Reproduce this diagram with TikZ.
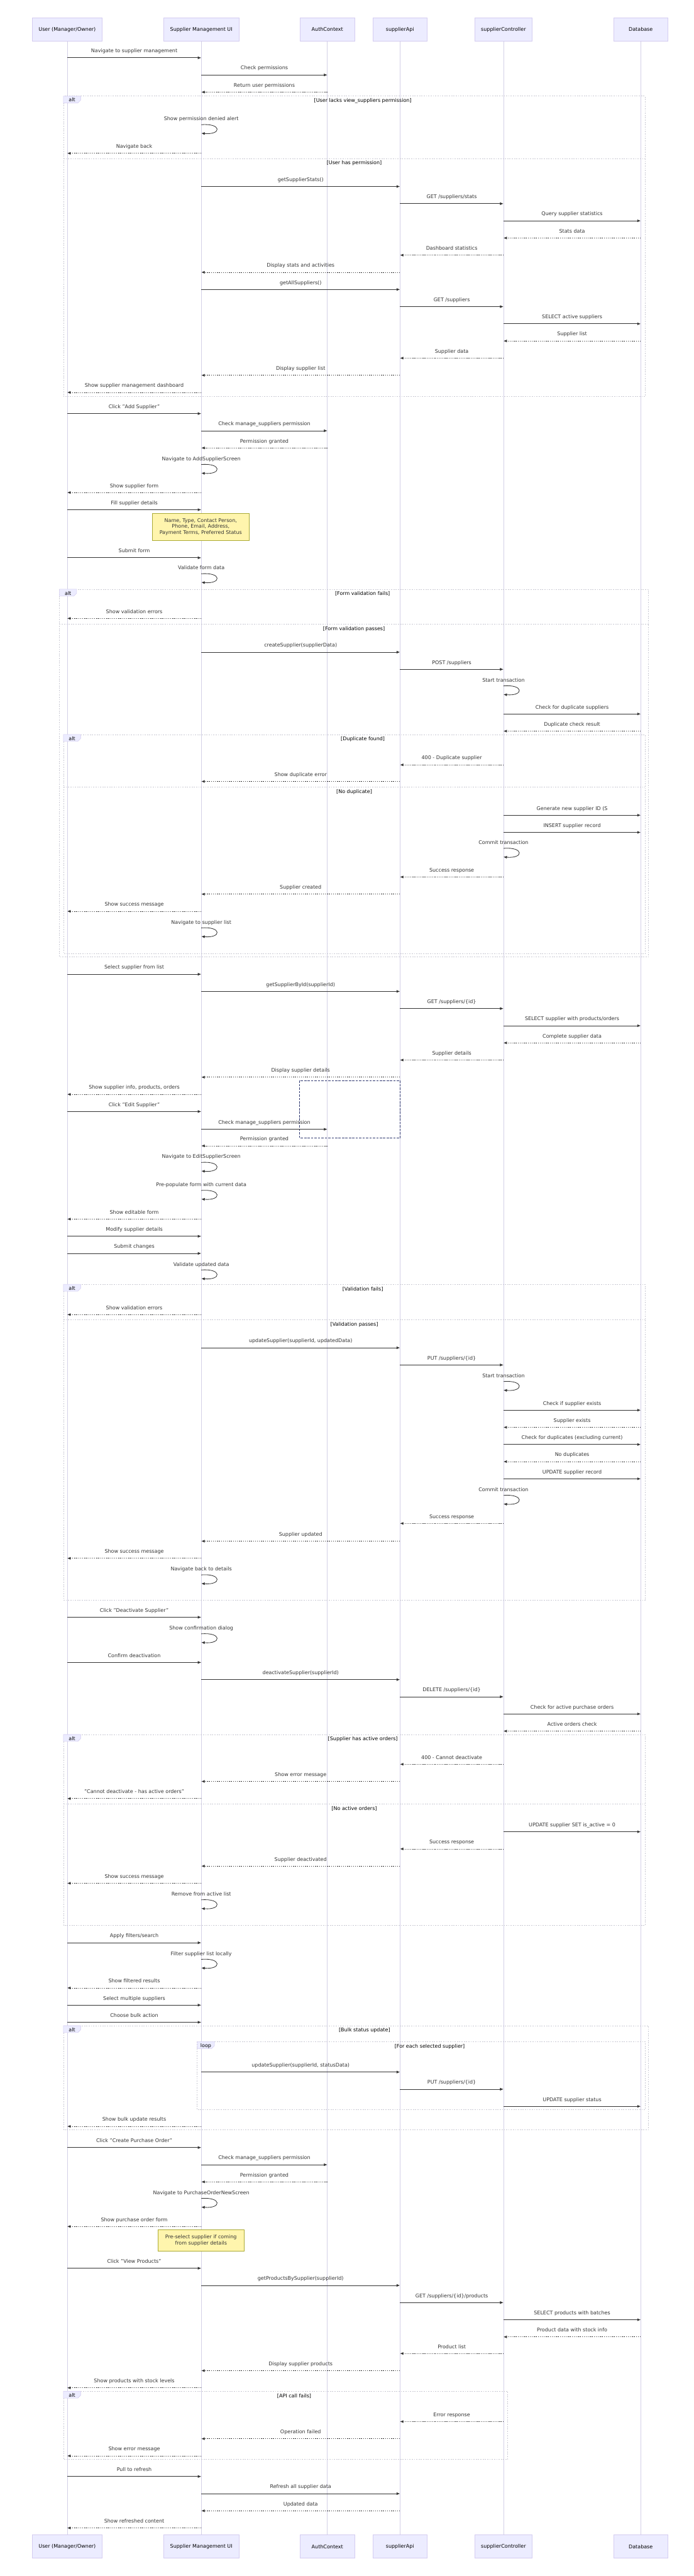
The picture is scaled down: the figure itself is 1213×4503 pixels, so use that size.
\documentclass[tikz,border=0pt]{standalone}
\usepackage{fontspec}
\setmainfont{DejaVu Sans}
\usepackage{xcolor}
\usepackage{tikz}
\usetikzlibrary{arrows.meta}
\definecolor{actorFill}{HTML}{ECECFF}
\definecolor{actorEdge}{HTML}{D4CCF0}
\definecolor{lifeGray}{HTML}{D3D0E6}
\definecolor{frameGray}{HTML}{C9C9D3}
\definecolor{msgDark}{HTML}{333333}
\definecolor{noteFill}{HTML}{FFF5AD}
\definecolor{noteEdge}{HTML}{AAAA33}
\definecolor{boxNavy}{HTML}{2E3770}
\tikzset{>={Latex[length=6pt,width=5pt]}}
\tikzset{seq-font/.style={font=\fontsize{8.8}{10.5}\selectfont}}
\tikzset{actor-box/.style={draw=actorEdge, fill=actorFill, line width=0.8pt, minimum height=41pt, inner sep=0, seq-font, text=black}}
\tikzset{lifeline/.style={draw=lifeGray, line width=0.8pt}}
\tikzset{msg-line/.style={->, draw=msgDark, line width=0.9pt}}
\tikzset{reply-line/.style={msg-line, dash pattern=on 1.5pt off 2pt}}
\tikzset{self-label/.style={seq-font, text=msgDark, anchor=base, inner sep=0}}
\tikzset{msg-label/.style={self-label, yshift=9pt}}
\tikzset{frame-line/.style={draw=frameGray, line width=0.9pt, dash pattern=on 2pt off 2pt}}
\tikzset{frame-tab/.style={draw=actorEdge, fill=actorFill, line width=0.6pt}}
\tikzset{frame-label/.style={seq-font, text=black, anchor=base, inner sep=0}}
\tikzset{note-box/.style={draw=noteEdge, fill=noteFill, line width=0.8pt, seq-font, text=msgDark, align=center, inner sep=0}}
\newcounter{msgno}
\newcommand{\callmsg}[4]{%
    \stepcounter{msgno}%
    \draw[msg-line] (#1 |- 0,#3) -- node[msg-label] (msg\arabic{msgno}) {#4} (#2 |- 0,#3);
}
\newcommand{\replymsg}[4]{%
    \stepcounter{msgno}%
    \draw[reply-line] (#1 |- 0,#3) -- node[msg-label] (msg\arabic{msgno}) {#4} (#2 |- 0,#3);
}
\newcommand{\selfmsg}[3]{%
    \stepcounter{msgno}%
    \node[self-label] (msg\arabic{msgno}) at (#1 |- 0,#2+3) {#3};
    \draw[msg-line] (#1 |- 0,#2+10) .. controls +(36,-3) and +(36,3) .. (#1 |- 0,#2+25);
}
\newcommand{\altframe}[7]{%
    \draw[frame-line] (#3,#5) rectangle (#4,#6);
    \draw[frame-tab] (#3,#5) -- (#3+30,#5) -- (#3+30,#5+7) -- (#3+25,#5+12) -- (#3,#5+12) -- cycle;
    \node[frame-label] (#1tab) at (#3+15,#5+10) {#2};
    \node[frame-label] (#1) at ({(#3+#4)/2+15},#5+11) {#7};
}
\newcommand{\altelse}[5]{%
    \draw[frame-line] (#2,#4) -- (#3,#4);
    \node[frame-label] (#1) at ({(#2+#3)/2},#4+11) {#5};
}

\begin{document}
\begin{tikzpicture}[x=1pt, y=-1pt]
    \fill[white] (0,0) rectangle (1213,4503);
    \useasboundingbox (0,0) rectangle (1213,4503);

    \node[actor-box, minimum width=123pt] (user) at (117.5,51.5) {User (Manager/Owner)};
    \node[actor-box, minimum width=132pt] (ui) at (352,51.5) {Supplier Management UI};
    \node[actor-box, minimum width=95pt] (auth) at (572.5,51.5) {AuthContext};
    \node[actor-box, minimum width=95pt] (api) at (699.5,51.5) {supplierApi};
    \node[actor-box, minimum width=101pt] (ctrl) at (880.5,51.5) {supplierController};
    \node[actor-box, minimum width=95pt] (db) at (1120.5,51.5) {Database};

    \node[actor-box, minimum width=123pt] (user-bot) at (117.5,4451.5) {User (Manager/Owner)};
    \node[actor-box, minimum width=132pt] (ui-bot) at (352,4451.5) {Supplier Management UI};
    \node[actor-box, minimum width=95pt] (auth-bot) at (572.5,4451.5) {AuthContext};
    \node[actor-box, minimum width=95pt] (api-bot) at (699.5,4451.5) {supplierApi};
    \node[actor-box, minimum width=101pt] (ctrl-bot) at (880.5,4451.5) {supplierController};
    \node[actor-box, minimum width=95pt] (db-bot) at (1120.5,4451.5) {Database};

    \foreach \a in {user,ui,auth,api,ctrl,db}
        \draw[lifeline] (\a.south) -- (\a-bot.north);

    % load dashboard
    \callmsg{user}{ui}{101}{Navigate to supplier management}
    \callmsg{ui}{auth}{131}{Check permissions}
    \replymsg{auth}{ui}{161}{Return user permissions}
    \altframe{perm}{alt}{111}{1128}{168}{693}{[User lacks view\_suppliers permission]}
    \selfmsg{ui}{208}{Show permission denied alert}
    \replymsg{ui}{user}{268}{Navigate back}
    \altelse{permok}{111}{1128}{277}{[User has permission]}
    \callmsg{ui}{api}{326}{getSupplierStats()}
    \callmsg{api}{ctrl}{356}{GET /suppliers/stats}
    \callmsg{ctrl}{db}{386}{Query supplier statistics}
    \replymsg{db}{ctrl}{416}{Stats data}
    \replymsg{ctrl}{api}{446}{Dashboard statistics}
    \replymsg{api}{ui}{476}{Display stats and activities}
    \callmsg{ui}{api}{506}{getAllSuppliers()}
    \callmsg{api}{ctrl}{536}{GET /suppliers}
    \callmsg{ctrl}{db}{566}{SELECT active suppliers}
    \replymsg{db}{ctrl}{596}{Supplier list}
    \replymsg{ctrl}{api}{626}{Supplier data}
    \replymsg{api}{ui}{656}{Display supplier list}
    \replymsg{ui}{user}{686}{Show supplier management dashboard}

    % add supplier
    \callmsg{user}{ui}{723}{Click "Add Supplier"}
    \callmsg{ui}{auth}{753}{Check manage\_suppliers permission}
    \replymsg{auth}{ui}{783}{Permission granted}
    \selfmsg{ui}{802}{Navigate to AddSupplierScreen}
    \replymsg{ui}{user}{861}{Show supplier form}
    \callmsg{user}{ui}{891}{Fill supplier details}
    \node[note-box, minimum width=170pt, minimum height=48pt] (note1) at (351,921) {Name, Type, Contact Person,\\Phone, Email, Address,\\Payment Terms, Preferred Status};
    \callmsg{user}{ui}{975}{Submit form}
    \selfmsg{ui}{993}{Validate form data}
    \altframe{form}{alt}{104}{1134}{1030}{1673}{[Form validation fails]}
    \replymsg{ui}{user}{1081}{Show validation errors}
    \altelse{formok}{104}{1134}{1091}{[Form validation passes]}
    \callmsg{ui}{api}{1140}{createSupplier(supplierData)}
    \callmsg{api}{ctrl}{1170}{POST /suppliers}
    \selfmsg{ctrl}{1189}{Start transaction}
    \callmsg{ctrl}{db}{1248}{Check for duplicate suppliers}
    \replymsg{db}{ctrl}{1278}{Duplicate check result}
    \altframe{dup}{alt}{111}{1128}{1284}{1667}{[Duplicate found]}
    \replymsg{ctrl}{api}{1337}{400 - Duplicate supplier}
    \replymsg{api}{ui}{1366}{Show duplicate error}
    \altelse{nodup}{111}{1128}{1376}{[No duplicate]}
    \callmsg{ctrl}{db}{1425}{Generate new supplier ID (S}
    \callmsg{ctrl}{db}{1455}{INSERT supplier record}
    \selfmsg{ctrl}{1473}{Commit transaction}
    \replymsg{ctrl}{api}{1533}{Success response}
    \replymsg{api}{ui}{1563}{Supplier created}
    \replymsg{ui}{user}{1593}{Show success message}
    \selfmsg{ui}{1612}{Navigate to supplier list}

    % supplier details and edit
    \callmsg{user}{ui}{1703}{Select supplier from list}
    \callmsg{ui}{api}{1733}{getSupplierById(supplierId)}
    \callmsg{api}{ctrl}{1763}{GET /suppliers/\{id\}}
    \callmsg{ctrl}{db}{1793}{SELECT supplier with products/orders}
    \replymsg{db}{ctrl}{1823}{Complete supplier data}
    \replymsg{ctrl}{api}{1853}{Supplier details}
    \replymsg{api}{ui}{1883}{Display supplier details}
    \draw[draw=boxNavy, line width=0.8pt, dash pattern=on 4pt off 2pt] (524,1889) rectangle (700,1989);
    \replymsg{ui}{user}{1913}{Show supplier info, products, orders}
    \callmsg{user}{ui}{1943}{Click "Edit Supplier"}
    \callmsg{ui}{auth}{1974}{Check manage\_suppliers permission}
    \replymsg{auth}{ui}{2003}{Permission granted}
    \selfmsg{ui}{2022}{Navigate to EditSupplierScreen}
    \selfmsg{ui}{2071}{Pre-populate form with current data}
    \replymsg{ui}{user}{2131}{Show editable form}
    \callmsg{user}{ui}{2161}{Modify supplier details}
    \callmsg{user}{ui}{2191}{Submit changes}
    \selfmsg{ui}{2210}{Validate updated data}
    \altframe{valid}{alt}{111}{1128}{2245}{2797}{[Validation fails]}
    \replymsg{ui}{user}{2298}{Show validation errors}
    \altelse{validok}{111}{1128}{2307}{[Validation passes]}
    \callmsg{ui}{api}{2356}{updateSupplier(supplierId, updatedData)}
    \callmsg{api}{ctrl}{2386}{PUT /suppliers/\{id\}}
    \selfmsg{ctrl}{2405}{Start transaction}
    \callmsg{ctrl}{db}{2465}{Check if supplier exists}
    \replymsg{db}{ctrl}{2495}{Supplier exists}
    \callmsg{ctrl}{db}{2525}{Check for duplicates (excluding current)}
    \replymsg{db}{ctrl}{2555}{No duplicates}
    \callmsg{ctrl}{db}{2585}{UPDATE supplier record}
    \selfmsg{ctrl}{2604}{Commit transaction}
    \replymsg{ctrl}{api}{2663}{Success response}
    \replymsg{api}{ui}{2694}{Supplier updated}
    \replymsg{ui}{user}{2724}{Show success message}
    \selfmsg{ui}{2743}{Navigate back to details}

    % deactivate
    \callmsg{user}{ui}{2827}{Click "Deactivate Supplier"}
    \selfmsg{ui}{2846}{Show confirmation dialog}
    \callmsg{user}{ui}{2906}{Confirm deactivation}
    \callmsg{ui}{api}{2936}{deactivateSupplier(supplierId)}
    \callmsg{api}{ctrl}{2966}{DELETE /suppliers/\{id\}}
    \callmsg{ctrl}{db}{2996}{Check for active purchase orders}
    \replymsg{db}{ctrl}{3026}{Active orders check}
    \altframe{orders}{alt}{111}{1128}{3032}{3366}{[Supplier has active orders]}
    \replymsg{ctrl}{api}{3084}{400 - Cannot deactivate}
    \replymsg{api}{ui}{3114}{Show error message}
    \replymsg{ui}{user}{3144}{"Cannot deactivate - has active orders"}
    \altelse{noorders}{111}{1128}{3153}{[No active orders]}
    \callmsg{ctrl}{db}{3202}{UPDATE supplier SET is\_active = 0}
    \replymsg{ctrl}{api}{3232}{Success response}
    \replymsg{api}{ui}{3262}{Supplier deactivated}
    \replymsg{ui}{user}{3292}{Show success message}
    \selfmsg{ui}{3311}{Remove from active list}

    % filters and bulk actions
    \callmsg{user}{ui}{3396}{Apply filters/search}
    \selfmsg{ui}{3415}{Filter supplier list locally}
    \replymsg{ui}{user}{3475}{Show filtered results}
    \callmsg{user}{ui}{3505}{Select multiple suppliers}
    \callmsg{user}{ui}{3535}{Choose bulk action}
    \altframe{bulk}{alt}{111}{1134}{3541}{3723}{[Bulk status update]}
    \altframe{each}{loop}{345}{1128}{3569}{3688}{[For each selected supplier]}
    \callmsg{ui}{api}{3622}{updateSupplier(supplierId, statusData)}
    \callmsg{api}{ctrl}{3652}{PUT /suppliers/\{id\}}
    \callmsg{ctrl}{db}{3682}{UPDATE supplier status}
    \replymsg{ui}{user}{3717}{Show bulk update results}

    % purchase order
    \callmsg{user}{ui}{3754}{Click "Create Purchase Order"}
    \callmsg{ui}{auth}{3784}{Check manage\_suppliers permission}
    \replymsg{auth}{ui}{3814}{Permission granted}
    \selfmsg{ui}{3833}{Navigate to PurchaseOrderNewScreen}
    \replymsg{ui}{user}{3892}{Show purchase order form}
    \node[note-box, minimum width=151pt, minimum height=37pt] (note2) at (351.5,3916.5) {Pre-select supplier if coming\\from supplier details};
    \callmsg{user}{ui}{3965}{Click "View Products"}
    \callmsg{ui}{api}{3995}{getProductsBySupplier(supplierId)}
    \callmsg{api}{ctrl}{4025}{GET /suppliers/\{id\}/products}
    \callmsg{ctrl}{db}{4055}{SELECT products with batches}
    \replymsg{db}{ctrl}{4085}{Product data with stock info}
    \replymsg{ctrl}{api}{4114}{Product list}
    \replymsg{api}{ui}{4144}{Display supplier products}
    \replymsg{ui}{user}{4174}{Show products with stock levels}
    \altframe{apifail}{alt}{111}{888}{4180}{4299}{[API call fails]}
    \replymsg{ctrl}{api}{4233}{Error response}
    \replymsg{api}{ui}{4263}{Operation failed}
    \replymsg{ui}{user}{4293}{Show error message}

    % refresh
    \callmsg{user}{ui}{4329}{Pull to refresh}
    \callmsg{ui}{api}{4359}{Refresh all supplier data}
    \replymsg{api}{ui}{4389}{Updated data}
    \replymsg{ui}{user}{4419}{Show refreshed content}
\end{tikzpicture}
\end{document}
